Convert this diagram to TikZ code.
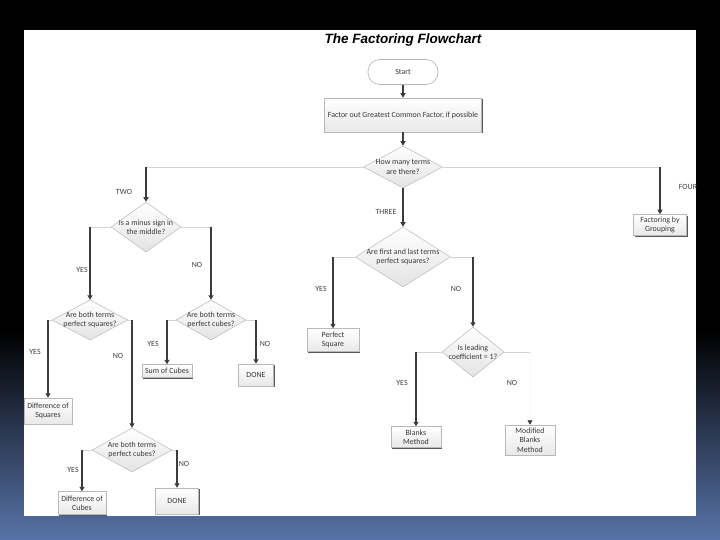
\documentclass[tikz,border=0pt]{standalone}
\usepackage{fontspec}
\setmainfont{Carlito}
\newfontfamily\titlefont{Liberation Sans}
\usetikzlibrary{shapes.geometric,arrows.meta,shadows}
\definecolor{bgblue}{RGB}{88,116,168}
\definecolor{lineDark}{RGB}{60,60,60}
\definecolor{lineLight}{RGB}{212,212,212}
\tikzset{
  every node/.style={font=\fontsize{7.9}{9.3}\selectfont, align=center, inner sep=0pt, text=black!78},
  boxnode/.style={rectangle, draw=gray!55, line width=0.5pt, top color=white, bottom color=gray!18,
    drop shadow={shadow xshift=1.2pt, shadow yshift=-1.2pt, opacity=1, fill=black!65}},
  decision/.style={diamond, draw=gray!55, line width=0.5pt, top color=white, bottom color=gray!22},
  hline/.style={draw=lineLight, line width=0.8pt},
  vline/.style={draw=lineDark, line width=1.1pt, -{Triangle[width=5pt,length=4.5pt]}},
  vfaint/.style={draw=gray!5, line width=0.8pt, -{Triangle[width=5pt,length=4.5pt,color=lineDark]}},
  lbl/.style={text=black!75},
}
\begin{document}
\begin{tikzpicture}[x=1pt,y=-1pt]
\useasboundingbox (0,0) rectangle (720,540);
\fill[black] (0,0) rectangle (720,540);
\node[anchor=north west, minimum width=720pt, minimum height=210pt, top color=black, bottom color=bgblue, draw=none] (bg) at (0,330) {};
\fill[white] (24,30) rectangle (696,516);
\begin{scope}
\clip (24,30) rectangle (696,516);
\node[font=\titlefont\bfseries\itshape\fontsize{13.5}{16}\selectfont, text=black] (title) at (403,40) {The Factoring Flowchart};

% nodes
\node[rectangle, rounded corners=12pt, draw=gray!60, line width=0.6pt, fill=white, minimum width=70pt, minimum height=25pt] (start) at (403,72) {Start};
\node[boxnode, minimum width=157pt, minimum height=34pt] (gcf) at (403,115) {Factor out Greatest Common Factor, if possible};
\node[decision, minimum width=79pt, minimum height=42pt, label={center:How many terms\\are there?}] (d1) at (403,167) {};
\node[decision, minimum width=70pt, minimum height=50pt, label={center:Is a minus sign in\\the middle?}] (d2) at (146,227) {};
\node[decision, minimum width=76pt, minimum height=40pt, label={center:Are both terms\\perfect squares?}] (d3) at (90,320) {};
\node[boxnode, minimum width=48pt, minimum height=26pt] (dsq) at (48,411) {Difference of\\Squares};
\node[decision, minimum width=80pt, minimum height=44pt, label={center:Are both terms\\perfect cubes?}] (d4) at (132,450) {};
\node[boxnode, minimum width=48pt, minimum height=23pt] (dcu) at (82,503) {Difference of\\Cubes};
\node[boxnode, minimum width=43pt, minimum height=26pt] (done1) at (177,501) {DONE};
\node[decision, minimum width=70pt, minimum height=40pt, label={center:Are both terms\\perfect cubes?}] (d5) at (211,320) {};
\node[boxnode, minimum width=50pt, minimum height=13pt] (sum) at (167,371) {Sum of Cubes};
\node[boxnode, minimum width=35pt, minimum height=22pt] (done2) at (256,375) {DONE};
\node[decision, minimum width=95pt, minimum height=60pt, label={center:Are first and last terms\\perfect squares?}] (d6) at (403,257) {};
\node[boxnode, minimum width=52pt, minimum height=23pt] (ps) at (333,340) {Perfect\\Square};
\node[decision, minimum width=62pt, minimum height=50pt, label={center:Is leading\\coefficient = 1?}] (d7) at (473,352) {};
\node[boxnode, minimum width=50pt, minimum height=21pt] (blanks) at (416,437) {Blanks\\Method};
\node[boxnode, minimum width=50pt, minimum height=30pt] (mod) at (530,440) {Modified\\Blanks\\Method};
\node[boxnode, minimum width=53pt, minimum height=21pt] (fbg) at (660,225) {Factoring by\\Grouping};

% corner coordinates
\coordinate (c1) at (d1.west -| d2.north);
\coordinate (c2) at (d1.east -| fbg.north);
\coordinate (c3) at (d2.west -| d3.north);
\coordinate (c4) at (d2.east -| d5.north);
\coordinate (c5) at (d3.west -| dsq.north);
\coordinate (c6) at (d3.east -| d4.north);
\coordinate (c7) at (d4.west -| dcu.north);
\coordinate (c8) at (d4.east -| done1.north);
\coordinate (c9) at (d5.west -| sum.north);
\coordinate (c10) at (d5.east -| done2.north);
\coordinate (c11) at (d6.west -| ps.north);
\coordinate (c12) at (d6.east -| d7.north);
\coordinate (c13) at (d7.west -| blanks.north);
\coordinate (c14) at (d7.east -| mod.north);

% connectors
\draw[vline] (start) -- (gcf);
\draw[vline] (gcf) -- (d1);
\draw[vline] (d1) -- (d6);
\draw[hline] (d1.west) -- (c1); \draw[vline] (c1) -- (d2.north);
\draw[hline] (d1.east) -- (c2); \draw[vline] (c2) -- (fbg.north);
\draw[hline] (d2.west) -- (c3); \draw[vline] (c3) -- (d3.north);
\draw[hline] (d2.east) -- (c4); \draw[vline] (c4) -- (d5.north);
\draw[hline] (d3.west) -- (c5); \draw[vline] (c5) -- (dsq.north);
\draw[hline] (d3.east) -- (c6); \draw[vline] (c6) -- (d4.north);
\draw[hline] (d4.west) -- (c7); \draw[vline] (c7) -- (dcu.north);
\draw[hline] (d4.east) -- (c8); \draw[vline] (c8) -- (done1.north);
\draw[hline] (d5.west) -- (c9); \draw[vline] (c9) -- (sum.north);
\draw[hline] (d5.east) -- (c10); \draw[vline] (c10) -- (done2.north);
\draw[hline] (d6.west) -- (c11); \draw[vline] (c11) -- (ps.north);
\draw[hline] (d6.east) -- (c12); \draw[vline] (c12) -- (d7.north);
\draw[hline] (d7.west) -- (c13); \draw[vline] (c13) -- (blanks.north);
\draw[hline] (d7.east) -- (c14); \draw[vfaint] (c14) -- (mod.north);

% labels
\node[lbl] (lTwo) at (124,192) {TWO};
\node[lbl] (lFour) at (688,187) {FOUR};
\node[lbl] (lThree) at (386,212) {THREE};
\node[lbl] (lY1) at (82,270) {YES};
\node[lbl] (lN1) at (197,265) {NO};
\node[lbl] (lY2) at (35,352) {YES};
\node[lbl] (lN2) at (118,356) {NO};
\node[lbl] (lY3) at (73,470) {YES};
\node[lbl] (lN3) at (184,464) {NO};
\node[lbl] (lY4) at (153,344) {YES};
\node[lbl] (lN4) at (265,344) {NO};
\node[lbl] (lY5) at (321,289) {YES};
\node[lbl] (lN5) at (456,289) {NO};
\node[lbl] (lY6) at (402,383) {YES};
\node[lbl] (lN6) at (512,383) {NO};
\end{scope}
\end{tikzpicture}
\end{document}
